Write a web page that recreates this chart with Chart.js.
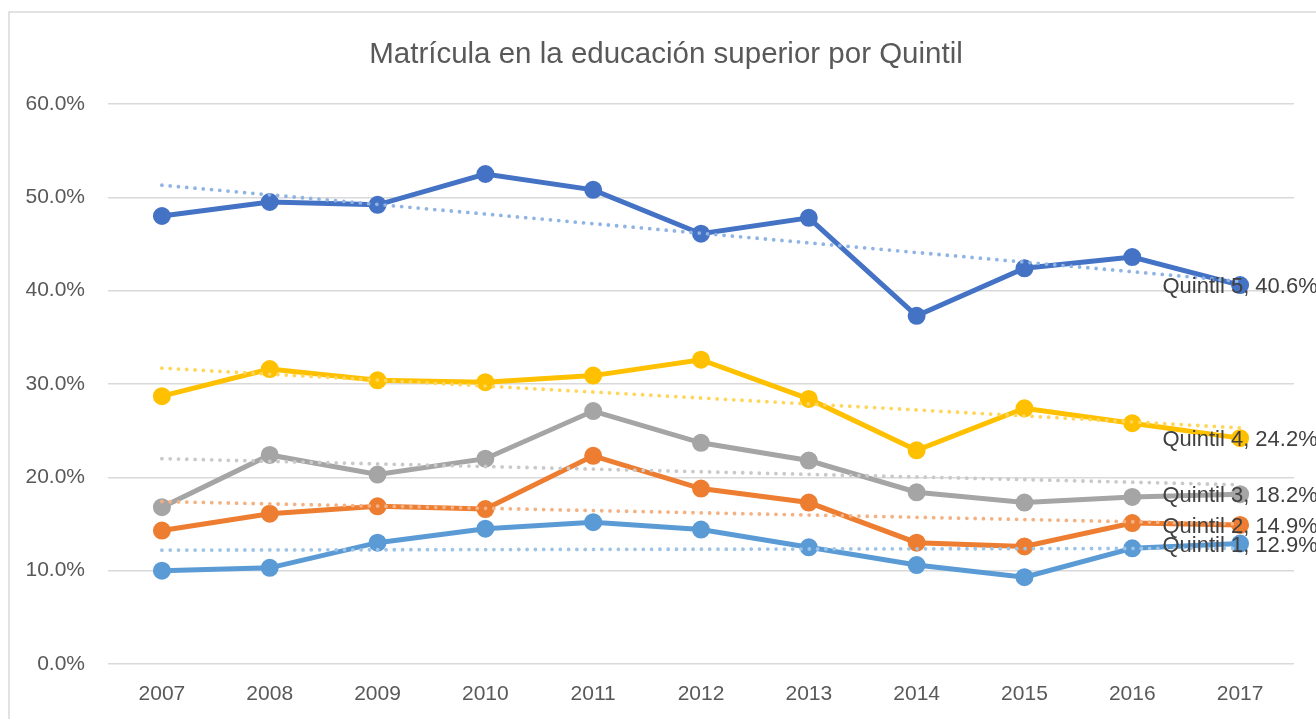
<!DOCTYPE html>
<html>
<head>
<meta charset="utf-8">
<script src="https://cdn.jsdelivr.net/npm/chart.js@4"></script>
<style>
  html, body { margin: 0; padding: 0; background: #fff; }
  #wrap { width: 1316px; height: 719px; }
</style>
</head>
<body>
<div id="wrap"><canvas id="chart" width="1316" height="719"></canvas></div>
<script>
// ===== Data =====
const years = ['2007', '2008', '2009', '2010', '2011', '2012', '2013', '2014', '2015', '2016', '2017'];
const quintil5 = [48.0, 49.5, 49.2, 52.5, 50.8, 46.1, 47.8, 37.3, 42.4, 43.6, 40.6];
const quintil4 = [28.7, 31.6, 30.4, 30.2, 30.9, 32.6, 28.4, 22.9, 27.4, 25.8, 24.2];
const quintil3 = [16.8, 22.4, 20.3, 22.0, 27.1, 23.7, 21.8, 18.4, 17.3, 17.9, 18.2];
const quintil2 = [14.3, 16.1, 16.9, 16.6, 22.3, 18.8, 17.3, 13.0, 12.6, 15.1, 14.9];
const quintil1 = [10.0, 10.3, 13.0, 14.5, 15.2, 14.4, 12.5, 10.6, 9.3, 12.4, 12.9];
// líneas de tendencia: [valor 2007, valor 2017]
const trend5 = [51.3, 41.0];
const trend4 = [31.7, 25.3];
const trend3 = [22.0, 19.2];
const trend2 = [17.4, 15.0];
const trend1 = [12.2, 12.4];
const yTicks = [0, 10, 20, 30, 40, 50, 60];

const TEXT = '#595959';
const FONT = '"Liberation Sans", Arial, sans-serif';

function trendData(pair) {
  const d = years.map(() => null);
  d[0] = pair[0];
  d[d.length - 1] = pair[1];
  return d;
}

function series(label, data, color) {
  return {
    label, data, borderColor: color, backgroundColor: color,
    borderWidth: 5, pointRadius: 6.5, pointHoverRadius: 6.5,
    tension: 0, order: 2, showLabel: true
  };
}
function trend(label, data, color) {
  return {
    label, data: trendData(data), borderColor: color,
    borderWidth: 3.8, borderDash: [0, 8.3], borderCapStyle: 'round',
    pointRadius: 0, spanGaps: true, order: 1
  };
}

// ===== Plugins =====
const frame = {
  id: 'frame',
  beforeDraw(chart) {
    const c = chart.ctx;
    c.save();
    c.fillStyle = '#fff';
    c.fillRect(0, 0, chart.width, chart.height);
    c.strokeStyle = '#d9d9d9';
    c.lineWidth = 1.5;
    c.strokeRect(9, 12, 2000, 2000);
    c.fillStyle = TEXT;
    c.font = '29.5px ' + FONT;
    c.textAlign = 'center';
    c.textBaseline = 'middle';
    c.fillText('Matrícula en la educación superior por Quintil', 666, 55);
    c.restore();
  }
};

const endLabels = {
  id: 'endLabels',
  afterDatasetsDraw(chart) {
    const c = chart.ctx;
    c.save();
    c.font = '22px ' + FONT;
    c.fillStyle = '#404040';
    c.textAlign = 'center';
    c.textBaseline = 'middle';
    chart.data.datasets.forEach((ds, i) => {
      if (!ds.showLabel) return;
      const meta = chart.getDatasetMeta(i);
      const last = meta.data[meta.data.length - 1];
      const v = ds.data[ds.data.length - 1];
      c.fillText(ds.label + ', ' + v.toFixed(1) + '%', last.x, last.y + 2);
    });
    c.restore();
  }
};

// ===== Chart =====
const ctx = document.getElementById('chart').getContext('2d');
new Chart(ctx, {
  type: 'line',
  data: {
    labels: years,
    datasets: [
      series('Quintil 5', quintil5, '#4472C4'),
      series('Quintil 4', quintil4, '#FFC000'),
      series('Quintil 3', quintil3, '#A5A5A5'),
      series('Quintil 2', quintil2, '#ED7D31'),
      series('Quintil 1', quintil1, '#5B9BD5'),
      trend('Tendencia 5', trend5, '#8FB4E3'),
      trend('Tendencia 4', trend4, '#FFD55A'),
      trend('Tendencia 3', trend3, '#C9C9C9'),
      trend('Tendencia 2', trend2, '#F4B183'),
      trend('Tendencia 1', trend1, '#9DC3E6')
    ]
  },
  options: {
    responsive: false,
    animation: false,
    layout: { padding: { left: 0, top: 104, right: 22, bottom: 0 } },
    plugins: {
      legend: { display: false },
      title: { display: false },
      tooltip: { enabled: false }
    },
    scales: {
      x: {
        offset: true,
        grid: { display: false },
        border: { display: false },
        ticks: { color: TEXT, font: { family: FONT, size: 21 }, padding: 10 },
        afterFit(scale) { scale.height = 55; }
      },
      y: {
        min: 0, max: 60,
        afterBuildTicks(scale) { scale.ticks = yTicks.map(v => ({ value: v })); },
        grid: { color: '#d9d9d9', lineWidth: 1.5, drawTicks: false },
        border: { display: false },
        ticks: {
          color: TEXT, font: { family: FONT, size: 21 }, padding: 23,
          callback: v => v.toFixed(1) + '%'
        },
        afterFit(scale) { scale.width = 108; }
      }
    }
  },
  plugins: [frame, endLabels]
});
</script>
</body>
</html>
